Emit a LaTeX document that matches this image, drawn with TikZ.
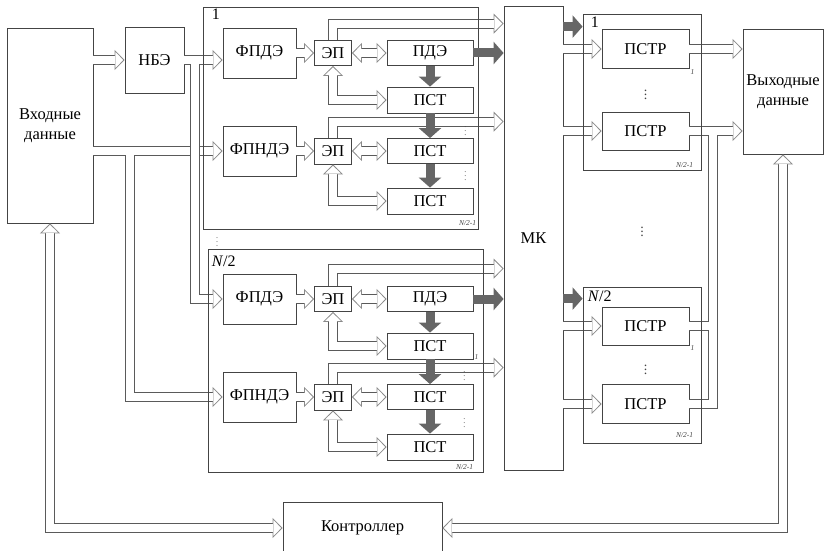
\documentclass[tikz,border=0pt]{standalone}
\usepackage{fontspec}
\setmainfont{Liberation Serif}
\newfontfamily\boxfont{Liberation Serif}
\usetikzlibrary{arrows.meta, calc}

\definecolor{linegray}{HTML}{444444}
\definecolor{busgray}{HTML}{5A5A5A}
\definecolor{headgray}{HTML}{8A8A8A}
\definecolor{fatgray}{HTML}{666666}

\begin{document}
\begin{tikzpicture}[x=1pt, y=-1pt,
  box/.style={rectangle, draw=linegray, line width=0.8pt, inner sep=0pt, align=center, font=\boxfont\fontsize{16.5}{20}\selectfont},
  frame/.style={rectangle, draw=linegray, line width=0.8pt, inner sep=0pt},
  hollowtip/.tip={Triangle[color=headgray, fill=white, line width=0.8pt, length=10pt, width=20pt]},
  pipe/.style={draw=busgray, line width=10pt, postaction={draw=white, line width=8pt}},
  bus/.style={draw=busgray, line width=10pt, -{hollowtip}, postaction={draw=white, line width=8pt, -, shorten >=9.4pt}},
  bibus/.style={draw=busgray, line width=10pt, {hollowtip}-{hollowtip}, postaction={draw=white, line width=8pt, -, shorten >=9.4pt, shorten <=9.4pt}},
  fat/.style={draw=fatgray, line width=9pt, -{Triangle[length=10pt, width=22pt]}},
  tag/.style={inner sep=0pt, text=linegray, font=\fontsize{7.5}{8}\selectfont\itshape},
  num/.style={inner sep=0pt, font=\fontsize{16}{18}\selectfont},
  dots/.style={inner sep=0pt, text=linegray, font=\fontsize{8}{9}\selectfont}]
\useasboundingbox (0,0) rectangle (825,551);

% input side
\node[box, minimum width=86, minimum height=195] (in) at (50,125.5) {Входные\\данные};
\node[box, minimum width=59, minimum height=66] (nbe) at (154.5,60) {НБЭ};

% block 1
\node[box, minimum width=73, minimum height=50] (fpdeA) at (259.5,53) {ФПДЭ};
\node[box, minimum width=37, minimum height=25] (epA) at (333,53) {ЭП};
\node[box, minimum width=86, minimum height=25] (pdeA) at (430,53) {ПДЭ};
\node[box, minimum width=86, minimum height=26] (pstA) at (430,100) {ПСТ};
\node[box, minimum width=73, minimum height=50] (fpndeA) at (259.5,151) {ФПНДЭ};
\node[box, minimum width=37, minimum height=26] (epB) at (333,151) {ЭП};
\node[box, minimum width=86, minimum height=25] (pstB) at (430,151) {ПСТ};
\node[box, minimum width=86, minimum height=26] (pstC) at (430,201) {ПСТ};

% block N/2
\node[box, minimum width=73, minimum height=50] (fpdeC) at (259.5,299) {ФПДЭ};
\node[box, minimum width=37, minimum height=25] (epC) at (333,299) {ЭП};
\node[box, minimum width=86, minimum height=25] (pdeC) at (430,299) {ПДЭ};
\node[box, minimum width=86, minimum height=26] (pstD) at (430,346) {ПСТ};
\node[box, minimum width=73, minimum height=50] (fpndeC) at (259.5,397) {ФПНДЭ};
\node[box, minimum width=37, minimum height=26] (epD) at (333,397) {ЭП};
\node[box, minimum width=86, minimum height=25] (pstE) at (430,397) {ПСТ};
\node[box, minimum width=86, minimum height=26] (pstF) at (430,447) {ПСТ};

% switch, output side, controller
\node[box, minimum width=59, minimum height=464] (mk) at (533.5,238) {МК};
\node[box, minimum width=87, minimum height=39] (pstrA) at (645.5,49) {ПСТР};
\node[box, minimum width=87, minimum height=38] (pstrB) at (645.5,131) {ПСТР};
\node[box, minimum width=87, minimum height=38] (pstrC) at (645.5,326) {ПСТР};
\node[box, minimum width=87, minimum height=39] (pstrD) at (645.5,404) {ПСТР};
\node[box, minimum width=80, minimum height=125] (out) at (783,91.5) {Выходные\\данные};
\node[box, minimum width=159, minimum height=52] (ctrl) at (362.5,528) {Контроллер};

% distribution of the input
\draw[bus] (in.east |- nbe.west) -- (nbe.west);
\draw[bus] (nbe.east) -- (nbe.east -| fpdeA.west);
\draw[bus] (in.east |- fpndeA.west) -- (fpndeA.west);
\coordinate (jnbe) at (195,64);
\coordinate (jin) at (130,155);
\draw[bus] (jin) |- (fpndeC.west);
\draw[bus] (jnbe) |- (fpdeC.west);

% block 1 links
\draw[bus] (fpdeA) -- (epA);
\draw[bibus] (epA) -- (pdeA);
\draw[bibus] (epA.south) |- (pstA.west);
\draw[bus] (epA.north) |- ([yshift=-18pt]mk.north west);
\draw[bus] (fpndeA) -- (epB);
\draw[bibus] (epB) -- (pstB);
\draw[bibus] (epB.south) |- (pstC.west);
\draw[bus] (epB.north) |- ([yshift=-116pt]mk.north west);

% block N/2 links
\draw[bus] (fpdeC) -- (epC);
\draw[bibus] (epC) -- (pdeC);
\draw[bibus] (epC.south) |- (pstD.west);
\draw[bus] (epC.north) |- ([yshift=-263pt]mk.north west);
\draw[bus] (fpndeC) -- (epD);
\draw[bibus] (epD) -- (pstE);
\draw[bibus] (epD.south) |- (pstF.west);
\draw[bus] (epD.north) |- ([yshift=-362pt]mk.north west);

% switch to receivers
\draw[bus] (mk.east |- pstrA.west) -- (pstrA.west);
\draw[bus] (mk.east |- pstrB.west) -- (pstrB.west);
\draw[bus] (mk.east |- pstrC.west) -- (pstrC.west);
\draw[bus] (mk.east |- pstrD.west) -- (pstrD.west);

% receivers to output
\draw[bus] (pstrA.east) -- (pstrA.east -| out.west);
\draw[bus] (pstrB.east) -- (pstrB.east -| out.west);
\coordinate (jout) at (713,135);
\coordinate (jmid) at (709,326);
\draw[pipe] (pstrD.east) -| (jout);
\draw[pipe] (pstrC.east) -- (jmid);

% controller
\draw[bibus] (in.south) |- (ctrl.west);
\draw[bibus] (out.south) |- (ctrl.east);

% frames
\node[frame, minimum width=275, minimum height=222] (blkA) at (340.5,118) {};
\node[frame, minimum width=275, minimum height=223] (blkB) at (345.5,360.5) {};
\node[frame, minimum width=118, minimum height=156] (rblkA) at (642,92) {};
\node[frame, minimum width=118, minimum height=156] (rblkB) at (642,365) {};

\node[num, anchor=north west] (lblA) at ([xshift=9pt, yshift=-2pt]blkA.north west) {1};
\node[num, anchor=north west] (lblB) at ([xshift=4pt, yshift=-7pt]blkB.north west) {\textit{N}/2};
\node[num, anchor=north west] (lblC) at ([xshift=8pt, yshift=-3pt]rblkA.north west) {1};
\node[num, anchor=north west] (lblD) at ([xshift=5pt, yshift=-4pt]rblkB.north west) {\textit{N}/2};
\node[tag, anchor=south east] (tagA) at ([xshift=-2pt, yshift=4pt]blkA.south east) {N/2-1};
\node[tag, anchor=south east] (tagB) at ([xshift=-10pt, yshift=3pt]blkB.south east) {N/2-1};
\node[tag, anchor=south east] (tagC) at ([xshift=-8pt, yshift=3pt]rblkA.south east) {N/2-1};
\node[tag, anchor=south east] (tagD) at ([xshift=-8pt, yshift=6pt]rblkB.south east) {N/2-1};
\node[tag, anchor=north west] (oneA) at ([xshift=1pt]pstrA.south east) {1};
\node[tag, anchor=north west] (oneB) at ([xshift=1pt]pstrC.south east) {1};
\node[tag, anchor=south west] (oneC) at ([xshift=1pt]pstD.south east) {1};

\node[dots] (dA) at ([xshift=-8pt, yshift=10pt]pstB.north east) {$\vdots$};
\node[dots] (dB) at ([xshift=-8pt, yshift=14pt]pstC.north east) {$\vdots$};
\node[dots] (dC) at ([xshift=-9pt, yshift=11pt]pstE.north east) {$\vdots$};
\node[dots] (dD) at ([xshift=-9pt, yshift=13pt]pstF.north east) {$\vdots$};
\node[dots] (dE) at ($(blkA.south west)!0.5!(blkB.north west)+(12,0)$) {$\vdots$};
\node[dots, font=\fontsize{14}{16}\selectfont] (dF) at (pstrA.south |- rblkA.center) {$\vdots$};
\node[dots, font=\fontsize{14}{16}\selectfont] (dG) at ([yshift=-2pt]pstrC.south |- rblkB.center) {$\vdots$};
\node[dots, font=\fontsize{14}{16}\selectfont] (dH) at ($(rblkA.south)!0.5!(rblkB.north)$) {$\vdots$};

% data paths
\draw[fat] (pdeA.east) -- (pdeA.east -| mk.west);
\draw[fat] (pdeA) -- (pstA);
\draw[fat] (pstA) -- (pstB);
\draw[fat] (pstB) -- (pstC);
\draw[fat] (pdeC.east) -- (pdeC.east -| mk.west);
\draw[fat] (pdeC) -- (pstD);
\draw[fat] (pstD) -- (pstE);
\draw[fat] (pstE) -- (pstF);
\coordinate (rA) at ([yshift=-13pt]rblkA.north west);
\coordinate (rB) at ([yshift=-12pt]rblkB.north west);
\draw[fat] (rA -| mk.east) -- (rA);
\draw[fat] (rB -| mk.east) -- (rB);
\end{tikzpicture}
\end{document}
